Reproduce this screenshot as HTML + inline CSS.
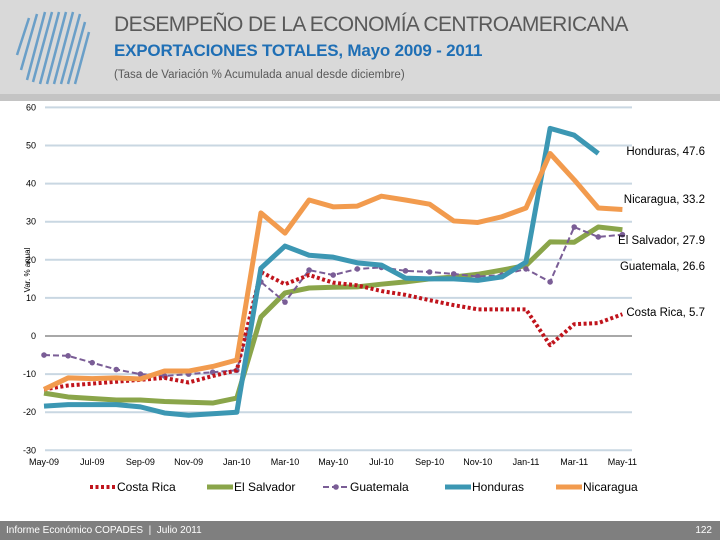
<!DOCTYPE html>
<html><head><meta charset="utf-8"><style>
body{margin:0;width:720px;height:540px;overflow:hidden;background:#fff;font-family:"Liberation Sans",sans-serif;position:relative}
#hdr{position:absolute;left:0;top:0;width:720px;height:94px;background:#d9d9d9}
#strip{position:absolute;left:0;top:94px;width:720px;height:7px;background:#c4c4c4}
.t1{position:absolute;left:114px;top:13px;font-size:21px;color:#595959;letter-spacing:-0.6px;transform:scaleX(1.0)}
.t2{position:absolute;left:114px;top:41px;font-size:17px;color:#1f6fb5;font-weight:bold;letter-spacing:-0.2px}
.t3{position:absolute;left:114px;top:69px;font-size:11.5px;color:#595959}
#ftr{position:absolute;left:0;top:521px;width:720px;height:19px;background:#7f7f7f;color:#fff;font-size:10px}
</style></head><body>
<div id="hdr"></div>
<div id="strip"></div>
<svg style="position:absolute;left:15px;top:10px" width="90" height="80">
<g stroke="#6a9fc8" stroke-width="2.5">
<line x1="12" y1="70" x2="30" y2="2"/><line x1="18" y1="72" x2="37" y2="2"/><line x1="25" y1="74" x2="44" y2="2"/><line x1="32" y1="74" x2="51" y2="2"/><line x1="39" y1="74" x2="58" y2="2"/><line x1="46" y1="74" x2="65" y2="4"/><line x1="53" y1="74" x2="70" y2="12"/><line x1="60" y1="74" x2="74" y2="22"/><line x1="6" y1="60" x2="22" y2="4"/><line x1="2" y1="45" x2="14" y2="8"/>
</g></svg>
<div class="t1">DESEMPEÑO DE LA ECONOMÍA CENTROAMERICANA</div>
<div class="t2">EXPORTACIONES TOTALES, Mayo 2009 - 2011</div>
<div class="t3">(Tasa de Variación % Acumulada anual desde diciembre)</div>
<svg id="chart" style="position:absolute;left:0;top:0" width="720" height="540"></svg>
<div id="ftr"><span style="position:absolute;left:6px;top:4px">Informe Económico COPADES &nbsp;|&nbsp; Julio 2011</span><span style="position:absolute;right:8px;top:4px">122</span></div>
<script>
const months=["May-09","Jun-09","Jul-09","Aug-09","Sep-09","Oct-09","Nov-09","Dec-09","Jan-10","Feb-10","Mar-10","Apr-10","May-10","Jun-10","Jul-10","Aug-10","Sep-10","Oct-10","Nov-10","Dec-10","Jan-11","Feb-11","Mar-11","Apr-11","May-11"];
const yTicks=[60,50,40,30,20,10,0,-10,-20,-30];
const costaRica=[-14,-13,-12.5,-12,-11.5,-11,-12.2,-10.5,-9,16.8,13.6,16,14,13.3,11.8,10.8,9.4,8.1,7,7,7,-2.4,3.1,3.4,5.7];
const elSalvador=[-15,-16,-16.4,-16.8,-16.8,-17.2,-17.4,-17.6,-16.3,5,11.3,12.6,12.8,12.9,13.6,14.2,15,15.5,16.2,17.3,18.5,24.7,24.6,28.6,27.9];
const guatemala=[-5,-5.2,-7,-8.8,-10,-10.5,-10,-9.5,-9,14.2,8.9,17.3,16,17.6,18,17.1,16.8,16.3,15.6,16,17.6,14.2,28.6,26,26.6];
const honduras=[-18.4,-18,-18,-18,-18.6,-20.2,-20.8,-20.4,-20,17.8,23.6,21.2,20.7,19.2,18.6,15.2,15,15,14.6,15.5,19.4,54.5,52.7,47.9,null];
const nicaragua=[-14,-11,-11.2,-11,-11.3,-9.2,-9.2,-8,-6.3,32.3,27,35.7,33.9,34.1,36.7,35.7,34.6,30.2,29.8,31.3,33.6,47.9,41,33.6,33.2];
const endLabels=["Costa Rica, 5.7","El Salvador, 27.9","Guatemala, 26.6","Honduras, 47.6","Nicaragua, 33.2"];
const names=["Costa Rica","El Salvador","Guatemala","Honduras","Nicaragua"];
const svg=document.getElementById('chart');const NS='http://www.w3.org/2000/svg';
const x=i=>44+i*24.1, y=v=>336-v*3.81;
function mk(t,a){const e=document.createElementNS(NS,t);for(const k in a)e.setAttribute(k,a[k]);svg.appendChild(e);return e;}
yTicks.forEach(v=>{
 const l=mk('line',{x1:45,x2:632,y1:y(v),y2:y(v),stroke:v===0?'#8c8c8c':'#c9d7e2','stroke-width':v===0?1.5:2});
 
 
 const t=mk('text',{x:36,y:y(v)+3,'font-size':9,'text-anchor':'end',fill:'#000'});t.textContent=v;
 
 
});
months.forEach((m,i)=>{if(i%2)return;
 const t=mk('text',{x:x(i),y:465,'font-size':9,'text-anchor':'middle',fill:'#000'});t.textContent=m;
 
 
});
const yt=mk('text',{x:0,y:0,'font-size':8,'text-anchor':'middle',transform:'translate(30,270) rotate(-90)'});yt.textContent='Var. % anual';


function path(d){let s='';d.forEach((v,i)=>{if(v==null)return;s+=(s?'L':'M')+x(i)+','+y(v);});return s;}
const styles=[
 {d:costaRica,c:'#c0141c',w:4,dash:'3,2.5',n:'series-costa-rica'},
 {d:elSalvador,c:'#8aa54a',w:5,n:'series-el-salvador'},
 {d:guatemala,c:'#7a5d96',w:2,dash:'6,3',dots:1,n:'series-guatemala'},
 {d:honduras,c:'#3c97b3',w:5,n:'series-honduras'},
 {d:nicaragua,c:'#f29b4e',w:5,n:'series-nicaragua'}];
const order=[1,2,0,3,4];
order.forEach(k=>{const s=styles[k];
 const p=mk('path',{d:path(s.d),fill:'none',stroke:s.c,'stroke-width':s.w,'stroke-linejoin':'round'});
 if(s.dash)p.setAttribute('stroke-dasharray',s.dash);
 
 
 if(s.dots)s.d.forEach((v,i)=>{const c=mk('circle',{cx:x(i),cy:y(v),r:2.8,fill:s.c});
  
  });
});
const ly=[316,244,270,155,203];const lx=[705,705,705,705,705];
endLabels.forEach((l,i)=>{const t=mk('text',{x:lx[i],y:ly[i],'font-size':11.5,'text-anchor':'end',fill:'#000'});t.textContent=l;
 
 });
const lgx=[90,207,323,445,556];
names.forEach((n,i)=>{const s=styles[i];
 const l=mk('line',{x1:lgx[i],x2:lgx[i]+26,y1:487,y2:487,stroke:s.c,'stroke-width':s.w});
 if(s.dash)l.setAttribute('stroke-dasharray',s.dash);
 
 
 if(s.dots){const c=mk('circle',{cx:lgx[i]+13,cy:487,r:2.8,fill:s.c});}
 const t=mk('text',{x:lgx[i]+27,y:491,'font-size':12,fill:'#000'});t.textContent=n;
 
 
});
</script>
</body></html>
